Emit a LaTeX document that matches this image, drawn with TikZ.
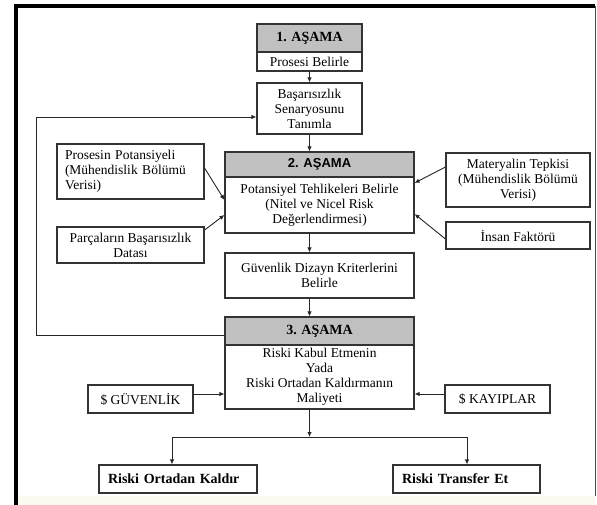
\documentclass[tikz,border=0pt]{standalone}
\usepackage{fontspec}
\setmainfont{Liberation Serif}
\newfontfamily\sansf{Liberation Sans}
\usetikzlibrary{arrows.meta,calc}
\definecolor{hdrgray}{HTML}{C0C0C0}
\definecolor{boxc}{HTML}{333333}
\definecolor{cream}{RGB}{252,250,238}
\begin{document}
\begin{tikzpicture}[x=1pt,y=-1pt,
  box/.style={draw=boxc,line width=1.1pt,inner sep=0pt,align=center,font=\fontsize{13.5}{15}\selectfont},
  hdr/.style={box,fill=hdrgray,font=\fontsize{14}{16}\selectfont\bfseries},
  conn/.style={line width=0.9pt,draw=black!85},
  arr/.style={conn,-{Latex[length=5pt,width=4.5pt]}}]
\useasboundingbox (0,0) rectangle (597,505);
% frame
\fill[cream] (18,496) rectangle (595,505);
\draw[line width=4pt,line join=miter] (16,505) -- (16,6) -- (595,6);
\draw[line width=0.8pt,black!70] (595,6) -- (595,496);
% nodes
\node[hdr,minimum width=105pt,minimum height=28pt] (h1) at (309.5,38) {1. AŞAMA};
\node[box,minimum width=105pt,minimum height=19pt] (p1) at (309.5,61.5) {Prosesi Belirle};
\node[box,minimum width=105pt,minimum height=51pt] (bas) at (309.5,108.5) {Başarısızlık\\Senaryosunu\\Tanımla};
\node[hdr,font=\sansf\fontsize{13}{15}\selectfont\bfseries,minimum width=189pt,minimum height=25pt] (h2) at (319.5,164.5) {2. AŞAMA};
\node[box,minimum width=189pt,minimum height=56pt] (b2) at (319.5,205) {Potansiyel Tehlikeleri Belirle\\(Nitel ve Nicel Risk\\Değerlendirmesi)};
\node[box,minimum width=147pt,minimum height=55pt,align=left,text width=131pt] (pp) at (130.5,171.5) {Prosesin Potansiyeli\\(Mühendislik Bölümü\\Verisi)};
\node[box,minimum width=147pt,minimum height=36pt] (pb) at (130.5,245) {Parçaların Başarısızlık\\Datası};
\node[box,minimum width=144pt,minimum height=54pt] (mt) at (518,180) {Materyalin Tepkisi\\(Mühendislik Bölümü\\Verisi)};
\node[box,minimum width=144pt,minimum height=27pt] (in) at (518,235.5) {İnsan Faktörü};
\node[box,minimum width=189pt,minimum height=45pt] (gd) at (319.5,275.5) {Güvenlik Dizayn Kriterlerini\\Belirle};
\node[hdr,minimum width=189pt,minimum height=28pt] (h3) at (319.5,331) {3. AŞAMA};
\node[box,minimum width=189pt,minimum height=64pt] (b3) at (319.5,377) {Riski Kabul Etmenin\\Yada\\Riski Ortadan Kaldırmanın\\Maliyeti};
\node[box,minimum width=105pt,minimum height=28pt] (sg) at (140.5,399) {\$ GÜVENLİK};
\node[box,minimum width=105pt,minimum height=28pt] (sk) at (497.5,399) {\$ KAYIPLAR};
\node[box,font=\fontsize{14}{16}\selectfont\bfseries,minimum height=28pt,align=left,text width=140pt,inner xsep=9pt] (ro) at (178,479) {Riski Ortadan Kaldır};
\node[box,font=\fontsize{14}{16}\selectfont\bfseries,minimum height=28pt,align=left,text width=129pt,inner xsep=9pt] (rt) at (466.5,479) {Riski Transfer Et};
% main column
\draw[arr] (p1.south) -- (bas.north);
\draw[arr] (bas.south) -- (h2.north -| bas.south);
\draw[arr] (b2.south -| bas.south) -- (gd.north -| bas.south);
\draw[arr] (gd.south -| bas.south) -- (h3.north -| bas.south);
% side inputs
\draw[arr] ($(pp.east)+(0,-3.5)$) -- ($(b2.west)+(0,-5)$);
\draw[arr] ($(pb.east)+(0,-15)$) -- ($(b2.west)+(0,10)$);
\draw[arr] ($(mt.west)+(0,-13)$) -- ($(b2.east)+(0,-22)$);
\draw[arr] ($(in.west)+(0,3.5)$) -- ($(b2.east)+(0,9)$);
% feedback
\coordinate (fb0) at ($(h3.west)+(0,4)$);
\coordinate (fb1) at (36,335);
\coordinate (fb2) at (36,117);
\draw[arr] (fb0) -- (fb1) -- (fb2) -- (fb2 -| bas.west);
% costs
\coordinate (sgo) at ($(sg.east)+(0,-5)$);
\coordinate (sko) at ($(sk.west)+(0,-5)$);
\draw[arr] (sgo) -- (sgo -| b3.west);
\draw[arr] (sko) -- (sko -| b3.east);
% branch
\coordinate (br) at (309.5,437);
\coordinate (bl) at (172,437);
\coordinate (brr) at (467,437);
\draw[arr] (b3.south -| bas.south) -- (br);
\draw[conn] (bl) -- (brr);
\draw[arr] (bl) -- (bl |- ro.north);
\draw[arr] (brr) -- (brr |- rt.north);
\end{tikzpicture}
\end{document}
